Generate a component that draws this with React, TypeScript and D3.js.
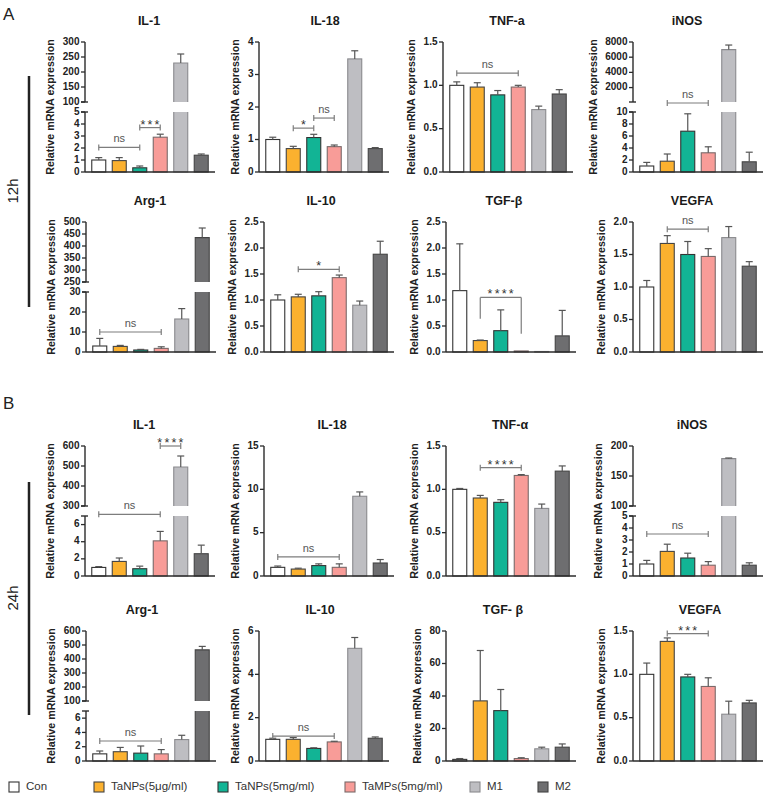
import React from 'react';
import * as d3 from 'd3';

const groups = ['Con', 'TaNPs(5μg/ml)', 'TaNPs(5mg/ml)', 'TaMPs(5mg/ml)', 'M1', 'M2'];

// ---- 12h ----
const il1_12h = [1.0, 0.95, 0.35, 2.9, 230, 1.4];
const il1_12h_sd = [0.2, 0.25, 0.15, 0.25, 30, 0.1];
const il18_12h = [1.0, 0.72, 1.06, 0.78, 3.48, 0.72];
const il18_12h_sd = [0.07, 0.07, 0.1, 0.05, 0.25, 0.03];
const tnf_12h = [1.0, 0.98, 0.89, 0.98, 0.72, 0.9];
const tnf_12h_sd = [0.04, 0.05, 0.05, 0.02, 0.04, 0.05];
const inos_12h = [1.0, 1.8, 6.8, 3.2, 7000, 1.7];
const inos_12h_sd = [0.6, 1.2, 2.9, 1.0, 600, 1.6];
const arg1_12h = [3.0, 2.8, 1.0, 1.8, 16.5, 435];
const arg1_12h_sd = [3.8, 0.5, 0.3, 0.8, 5.2, 40];
const il10_12h = [1.0, 1.06, 1.08, 1.43, 0.9, 1.88];
const il10_12h_sd = [0.1, 0.05, 0.08, 0.05, 0.08, 0.25];
const tgf_12h = [1.18, 0.22, 0.41, 0.02, 0.01, 0.31];
const tgf_12h_sd = [0.9, 0.01, 0.4, 0.0, 0.0, 0.49];
const vegfa_12h = [1.0, 1.67, 1.5, 1.47, 1.76, 1.32];
const vegfa_12h_sd = [0.1, 0.12, 0.2, 0.12, 0.17, 0.07];

// ---- 24h ----
const il1_24h = [1.0, 1.7, 0.85, 4.1, 495, 2.6];
const il1_24h_sd = [0.1, 0.4, 0.3, 1.1, 55, 1.0];
const il18_24h = [1.0, 0.8, 1.2, 1.0, 9.2, 1.5];
const il18_24h_sd = [0.15, 0.1, 0.2, 0.4, 0.5, 0.4];
const tnf_24h = [1.0, 0.9, 0.85, 1.16, 0.78, 1.21];
const tnf_24h_sd = [0.01, 0.03, 0.03, 0.01, 0.05, 0.06];
const inos_24h = [1.0, 2.05, 1.5, 0.9, 179, 0.9];
const inos_24h_sd = [0.3, 0.6, 0.4, 0.3, 1, 0.2];
const arg1_24h = [1.0, 1.3, 1.1, 1.0, 3.0, 465];
const arg1_24h_sd = [0.4, 0.6, 1.0, 0.6, 0.6, 25];
const il10_24h = [1.0, 1.0, 0.58, 0.88, 5.2, 1.05];
const il10_24h_sd = [0.05, 0.08, 0.03, 0.03, 0.5, 0.06];
const tgf_24h = [1.0, 37, 31, 1.5, 7.5, 8.5];
const tgf_24h_sd = [0.5, 31, 13, 0.5, 1, 2];
const vegfa_24h = [1.0, 1.38, 0.97, 0.86, 0.54, 0.67];
const vegfa_24h_sd = [0.13, 0.04, 0.03, 0.1, 0.15, 0.03];

const fills = ['#ffffff', '#FBB12F', '#12B495', '#F89C98', '#BEBEC2', '#6E6E70'];
const strokes = ['#333333', '#444444', '#333333', '#7a6a6a', '#8a8a8e', '#444444'];

const FONT = '"Liberation Sans", Arial, Helvetica, sans-serif';
const ROW_TOPS = [42, 222, 446, 631];
const H = 130;
const W = 130;

type Sig = { from: number; to: number; y: number; label: string; seg?: 'high'; legs?: [number, number] };
type P = {
  title: string; mean: number[]; sd: number[]; row: number; axisX: number; titleX: number;
  low: [number, number]; lowTicks: number[]; high?: [number, number]; highTicks?: number[];
  split?: [number, number];
  fmt: string; sigs: Sig[];
};

const panels: P[] = [
  { title: 'IL-1', mean: il1_12h, sd: il1_12h_sd, row: 0, axisX: 85, titleX: 149, low: [0, 5], lowTicks: [0, 1, 2, 3, 4, 5], high: [100, 300], highTicks: [100, 150, 200, 250, 300], fmt: 'd',
    sigs: [{ from: 0, to: 2, y: 2.05, label: 'ns' }, { from: 2, to: 3, y: 3.7, label: '***' }] },
  { title: 'IL-18', mean: il18_12h, sd: il18_12h_sd, row: 0, axisX: 259, titleX: 325, low: [0, 4], lowTicks: [0, 1, 2, 3, 4], fmt: 'd',
    sigs: [{ from: 1, to: 2, y: 1.35, label: '*' }, { from: 2, to: 3, y: 1.66, label: 'ns' }] },
  { title: 'TNF-a', mean: tnf_12h, sd: tnf_12h_sd, row: 0, axisX: 443, titleX: 507, low: [0, 1.5], lowTicks: [0, 0.5, 1, 1.5], fmt: '.1f',
    sigs: [{ from: 0, to: 3, y: 1.14, label: 'ns' }] },
  { title: 'iNOS', mean: inos_12h, sd: inos_12h_sd, row: 0, axisX: 633, titleX: 687, low: [0, 10], lowTicks: [0, 2, 4, 6, 8, 10], high: [100, 8000], highTicks: [2000, 4000, 6000, 8000], fmt: 'd',
    sigs: [{ from: 1, to: 3, y: 11.5, label: 'ns' }] },
  { title: 'Arg-1', mean: arg1_12h, sd: arg1_12h_sd, row: 1, axisX: 86, titleX: 150, low: [0, 30], lowTicks: [0, 10, 20, 30], high: [250, 500], highTicks: [250, 300, 350, 400, 450, 500], fmt: 'd',
    sigs: [{ from: 0, to: 3, y: 10, label: 'ns' }] },
  { title: 'IL-10', mean: il10_12h, sd: il10_12h_sd, row: 1, axisX: 264, titleX: 321, low: [0, 2.5], lowTicks: [0, 0.5, 1, 1.5, 2, 2.5], fmt: '.1f',
    sigs: [{ from: 1, to: 3, y: 1.59, label: '*' }] },
  { title: 'TGF-β', mean: tgf_12h, sd: tgf_12h_sd, row: 1, axisX: 446, titleX: 504, low: [0, 2.5], lowTicks: [0, 0.5, 1, 1.5, 2, 2.5], fmt: '.1f',
    sigs: [{ from: 1, to: 3, y: 1.05, label: '****', legs: [0.64, 0.35] }] },
  { title: 'VEGFA', mean: vegfa_12h, sd: vegfa_12h_sd, row: 1, axisX: 633, titleX: 692, low: [0, 2], lowTicks: [0, 0.5, 1, 1.5, 2], fmt: '.1f',
    sigs: [{ from: 1, to: 3, y: 1.89, label: 'ns' }] },
  { title: 'IL-1', mean: il1_24h, sd: il1_24h_sd, row: 2, axisX: 85, titleX: 144, low: [0, 7], lowTicks: [0, 2, 4, 6], high: [300, 600], highTicks: [300, 400, 500, 600], fmt: 'd',
    sigs: [{ from: 0, to: 3, y: 7.2, label: 'ns' }, { from: 3, to: 4, y: 600, seg: 'high', label: '****' }] },
  { title: 'IL-18', mean: il18_24h, sd: il18_24h_sd, row: 2, axisX: 264, titleX: 332, low: [0, 15], lowTicks: [0, 5, 10, 15], fmt: 'd',
    sigs: [{ from: 0, to: 3, y: 2.2, label: 'ns' }] },
  { title: 'TNF-α', mean: tnf_24h, sd: tnf_24h_sd, row: 2, axisX: 446, titleX: 510, low: [0, 1.5], lowTicks: [0, 0.5, 1, 1.5], fmt: '.1f',
    sigs: [{ from: 1, to: 3, y: 1.25, label: '****' }] },
  { title: 'iNOS', mean: inos_24h, sd: inos_24h_sd, row: 2, axisX: 633, titleX: 692, low: [0, 5], lowTicks: [0, 1, 2, 3, 4, 5], high: [100, 200], highTicks: [100, 150, 200], fmt: 'd',
    sigs: [{ from: 0, to: 3, y: 3.5, label: 'ns' }] },
  { title: 'Arg-1', mean: arg1_24h, sd: arg1_24h_sd, row: 3, axisX: 86, titleX: 142, low: [0, 7], lowTicks: [0, 2, 4, 6], high: [100, 600], highTicks: [100, 200, 300, 400, 500, 600], split: [70, 50], fmt: 'd',
    sigs: [{ from: 0, to: 3, y: 2.8, label: 'ns' }] },
  { title: 'IL-10', mean: il10_24h, sd: il10_24h_sd, row: 3, axisX: 259, titleX: 320, low: [0, 6], lowTicks: [0, 2, 4, 6], fmt: 'd',
    sigs: [{ from: 0, to: 3, y: 1.15, label: 'ns' }] },
  { title: 'TGF- β', mean: tgf_24h, sd: tgf_24h_sd, row: 3, axisX: 446, titleX: 503, low: [0, 80], lowTicks: [0, 20, 40, 60, 80], fmt: 'd',
    sigs: [] },
  { title: 'VEGFA', mean: vegfa_24h, sd: vegfa_24h_sd, row: 3, axisX: 633, titleX: 700, low: [0, 1.5], lowTicks: [0, 0.5, 1, 1.5], fmt: '.1f',
    sigs: [{ from: 1, to: 3, y: 1.47, label: '***' }] },
];

const legendX = [9, 94, 218, 345, 470, 538];

function textW(s: string) {
  let w = 0;
  for (const c of s) w += c === '.' ? 2.78 : 5.56;
  return w;
}

const AX = '#2b2b2b';

function Panel({ p }: { p: P }) {
  const top = ROW_TOPS[p.row];
  const y0 = top + H;
  const [upH, loH] = p.split || [60, 60];
  const x = d3.scaleBand<string>().domain(groups).range([p.axisX, p.axisX + W]).paddingInner(0.317).paddingOuter(0.33);
  const fmt = d3.format(p.fmt);
  const yLow = p.high
    ? d3.scaleLinear().domain(p.low).range([y0, y0 - loH])
    : d3.scaleLinear().domain(p.low).range([y0, top]);
  const yHigh = p.high ? d3.scaleLinear().domain(p.high).range([top + upH, top]) : null;
  const bw = x.bandwidth();
  const allTicks = [...p.lowTicks.map(fmt), ...(p.highTicks || []).map(fmt)];
  const maxW = Math.max(...allTicks.map(textW));
  const labelX = p.axisX - 17 - maxW;

  const bars: React.ReactNode[] = [];
  const errs: React.ReactNode[] = [];
  p.mean.forEach((v, i) => {
    const bx = x(groups[i])!;
    const cx = bx + bw / 2;
    const e = p.sd[i];
    if (!yHigh || v <= p.low[1]) {
      const yt = yLow(v);
      if (e > 0) {
        const ye = yLow(v + e);
        errs.push(
          <g key={'e' + i} stroke="#555" strokeWidth={1.2}>
            <line x1={cx} x2={cx} y1={yt} y2={ye} />
            <line x1={cx - 3.5} x2={cx + 3.5} y1={ye} y2={ye} />
          </g>
        );
      }
      bars.push(<rect key={'b' + i} x={bx} y={yt} width={bw} height={Math.max(0.6, y0 - yt)} fill={fills[i]} stroke={strokes[i]} strokeWidth={1.1} />);
    } else {
      const lt = yLow(p.low[1]);
      const ub = yHigh(p.high![0]);
      const yt = yHigh(v);
      bars.push(
        <g key={'b' + i}>
          <rect x={bx} y={lt} width={bw} height={y0 - lt} fill={fills[i]} />
          <path d={`M${bx},${lt}V${y0}H${bx + bw}V${lt}`} fill="none" stroke={strokes[i]} strokeWidth={1.1} />
          <rect x={bx} y={yt} width={bw} height={ub - yt} fill={fills[i]} />
          <path d={`M${bx},${ub}V${yt}H${bx + bw}V${ub}`} fill="none" stroke={strokes[i]} strokeWidth={1.1} />
        </g>
      );
      const ye = yHigh(v + e);
      errs.push(
        <g key={'e' + i} stroke="#555" strokeWidth={1.2}>
          <line x1={cx} x2={cx} y1={yt} y2={ye} />
          <line x1={cx - 3.5} x2={cx + 3.5} y1={ye} y2={ye} />
        </g>
      );
    }
  });

  const tickEls: React.ReactNode[] = [];
  const addTicks = (ticks: number[], sc: d3.ScaleLinear<number, number>, pre: string) => {
    ticks.forEach((t) => {
      const ty = sc(t);
      tickEls.push(
        <g key={pre + t}>
          <line x1={p.axisX - 4} x2={p.axisX} y1={ty} y2={ty} stroke={AX} strokeWidth={1.3} />
          <text x={p.axisX - 5.5} y={ty} textAnchor="end" dominantBaseline="middle" fontSize={10} fontWeight="bold" fill="#222">{fmt(t)}</text>
        </g>
      );
    });
  };
  addTicks(p.lowTicks, yLow, 'l');
  if (yHigh) addTicks(p.highTicks!, yHigh, 'h');

  const axisLines = yHigh ? (
    <g stroke={AX} strokeWidth={1.4}>
      <line x1={p.axisX} x2={p.axisX} y1={top} y2={top + upH} />
      <line x1={p.axisX - 4} x2={p.axisX + 3} y1={top + upH} y2={top + upH} />
      <line x1={p.axisX} x2={p.axisX} y1={y0 - loH} y2={y0} />
      <line x1={p.axisX - 4} x2={p.axisX + 3} y1={y0 - loH} y2={y0 - loH} />
      <line x1={p.axisX} x2={p.axisX + W} y1={y0} y2={y0} />
    </g>
  ) : (
    <g stroke={AX} strokeWidth={1.4}>
      <line x1={p.axisX} x2={p.axisX} y1={top} y2={y0} />
      <line x1={p.axisX} x2={p.axisX + W} y1={y0} y2={y0} />
    </g>
  );

  const sigEls = p.sigs.map((s, k) => {
    const sc = s.seg === 'high' && yHigh ? yHigh : yLow;
    const by = sc(s.y);
    const x1 = x(groups[s.from])! + bw / 2;
    const x2 = x(groups[s.to])! + bw / 2;
    const isNs = s.label === 'ns';
    return (
      <g key={'s' + k}>
        <g stroke="#7d7d7d" strokeWidth={1.2} fill="none">
          <line x1={x1} x2={x2} y1={by} y2={by} />
          {s.legs ? (
            <>
              <line x1={x1} x2={x1} y1={by} y2={yLow(s.legs[0])} />
              <line x1={x2} x2={x2} y1={by} y2={yLow(s.legs[1])} />
            </>
          ) : (
            <>
              <line x1={x1} x2={x1} y1={by - 3} y2={by + 3} />
              <line x1={x2} x2={x2} y1={by - 3} y2={by + 3} />
            </>
          )}
        </g>
        {isNs ? (
          <text x={(x1 + x2) / 2} y={by - 5} textAnchor="middle" fontSize={11} fill="#555">ns</text>
        ) : (
          <text x={(x1 + x2) / 2 + 1} y={by + 1} textAnchor="middle" fontSize={12.5} letterSpacing={2.2} fill="#333">{s.label}</text>
        )}
      </g>
    );
  });

  return (
    <g>
      <text x={p.titleX} y={top - 20} textAnchor="middle" dominantBaseline="middle" fontSize={12.5} fontWeight="bold" fill="#1a1a1a">{p.title}</text>
      <text transform={`translate(${labelX},${top + H / 2}) rotate(-90)`} textAnchor="middle" dominantBaseline="middle" fontSize={10.7} fontWeight="bold" fill="#222">Relative mRNA expression</text>
      {bars}
      {errs}
      {axisLines}
      {tickEls}
      {sigEls}
    </g>
  );
}

export default function App() {
  return (
    <svg width={765} height={798} style={{ position: 'absolute', left: 0, top: 0, background: '#fff' }} fontFamily={FONT}>
      <rect width={765} height={798} fill="#fff" />
      <text x={3} y={20} fontSize={17} fill="#222">A</text>
      <text x={3} y={409} fontSize={17} fill="#222">B</text>
      <line x1={29} x2={29} y1={76} y2={307} stroke="#222" strokeWidth={2.5} />
      <text transform="translate(14,191) rotate(-90)" textAnchor="middle" dominantBaseline="middle" fontSize={15} fill="#222">12h</text>
      <line x1={29} x2={29} y1={482} y2={715} stroke="#222" strokeWidth={2.5} />
      <text transform="translate(14,598) rotate(-90)" textAnchor="middle" dominantBaseline="middle" fontSize={15} fill="#222">24h</text>
      {panels.map((p, i) => <Panel key={i} p={p} />)}
      <g>
        {groups.map((g, i) => (
          <g key={g}>
            <rect x={legendX[i]} y={782} width={10} height={10} fill={fills[i]} stroke={strokes[i]} strokeWidth={1.1} />
            <text x={legendX[i] + 17} y={787} dominantBaseline="middle" fontSize={11.5} fill="#333">{g}</text>
          </g>
        ))}
      </g>
    </svg>
  );
}
